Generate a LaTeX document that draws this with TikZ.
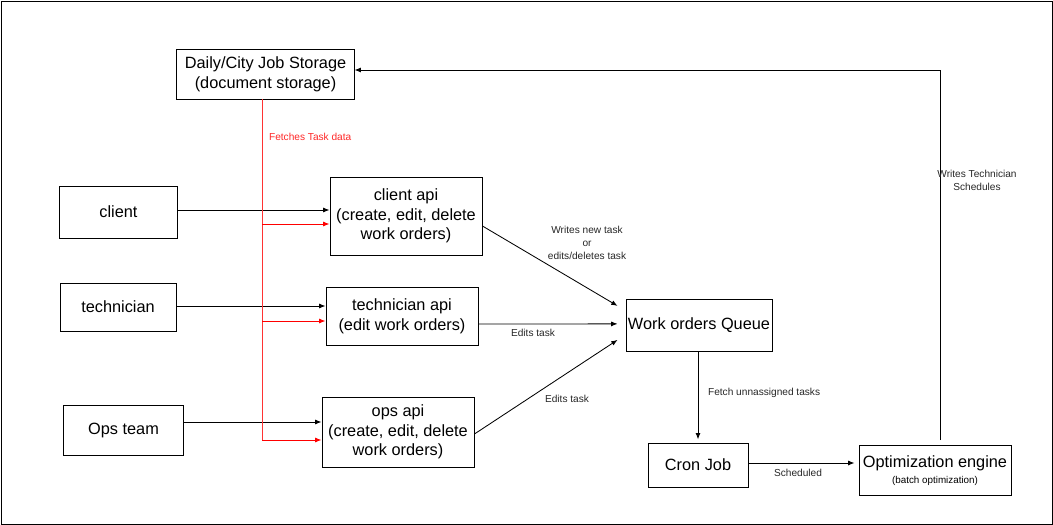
\documentclass[tikz,border=0pt]{standalone}
\usepackage{fontspec}
\setmainfont{Liberation Sans}
\usepackage{tikz}
\usetikzlibrary{arrows.meta}

\begin{document}
\begin{tikzpicture}[x=0.025cm, y=-0.025cm, line width=0.6pt,
	box/.style={draw, inner sep=0pt, align=center, font=\fontsize{11.6}{14}\selectfont},
	lbl/.style={font=\fontsize{7.2}{9.2}\selectfont, align=center, text=black!85},
	>={Latex[length=4.5pt,width=3.5pt]}]
		\useasboundingbox (0,0) rectangle (1053,525);
		\draw (1,1) rectangle (1052,524);
		
		\node[box, minimum width=4.43cm, minimum height=1.25cm] (store) at (265.5,74) {Daily/City Job Storage\\(document storage)};
		\node[box, minimum width=2.93cm, minimum height=1.3cm] (client) at (118.5,212) {client};
		\node[box, minimum width=2.9cm, minimum height=1.2cm] (tech) at (118,307) {technician};
		\node[box, minimum width=2.98cm, minimum height=1.25cm] (ops) at (123.5,430) {Ops team};
		\node[box, minimum width=3.8cm, minimum height=1.95cm] (capi) at (406,216) {client api\\(create, edit, delete\\work orders)};
		\node[box, minimum width=3.8cm, minimum height=1.45cm] (tapi) at (402,316) {technician api\\(edit work orders)};
		\node[box, minimum width=3.8cm, minimum height=1.75cm] (oapi) at (398,432) {ops api\\(create, edit, delete\\work orders)};
		\node[box, minimum width=3.65cm, minimum height=1.28cm] (queue) at (699,325.5) {Work orders Queue};
		\node[box, minimum width=2.5cm, minimum height=1.1cm] (cron) at (698,465) {Cron Job};
		\node[box, minimum width=3.8cm, minimum height=1.23cm] (opt) at (935,470.5) {Optimization engine\\[-3pt]{\fontsize{7}{9}\selectfont (batch optimization)}};
		
		\coordinate (rc) at (262,224);
		\coordinate (rt) at (262,321);
		\coordinate (ro) at (262,440);
		
		\draw[->] (client.east |- 0,210) -- (capi.west |- 0,210);
		\draw[->] (tech.east |- 0,306) -- (tapi.west |- 0,306);
		\draw[->] (ops.east |- 0,422) -- (oapi.west |- 0,422);
		
		\draw[red!80] (store.south -| ro) -- (ro);
		\draw[red, ->] (rc) -- (rc -| capi.west);
		\draw[red, ->] (rt) -- (rt -| tapi.west);
		\draw[red, ->] (ro) -- (ro -| oapi.west);
		\node[lbl, text=red!85, anchor=west] (fetch) at (264,137) {Fetches Task data};
		
		\draw[->] (capi.east |- 0,226) -- ([shift={(-0.2cm,0.49cm)}]queue.west);
		\draw[->] (tapi.east |- 0,324) -- ([shift={(-0.2cm,0.04cm)}]queue.west);
		\draw[->] (oapi.east |- 0,434) -- ([shift={(-0.2cm,-0.36cm)}]queue.west);
		\node[lbl] (writes) at (587,243) {Writes new task\\or\\edits/deletes task};
		\node[lbl] (edits1) at (533,333) {Edits task};
		\node[lbl] (edits2) at (567,399) {Edits task};
		
		\draw[->] (queue.south -| cron) -- ([yshift=0.08cm]cron.north);
		\node[lbl, anchor=west] (fetchun) at (703,393) {Fetch unnassigned tasks};
		\draw[->] (cron.east |- 0,463) -- ([xshift=-0.1cm]opt.west |- 0,463);
		\node[lbl] (sched) at (798,473) {Scheduled};
		
		\draw[->] (940,440) |- ([yshift=0.1cm]store.east);
		\node[lbl] (wts) at (977,180) {Writes Technician\\Schedules};
		
		\end{tikzpicture}
\end{document}
